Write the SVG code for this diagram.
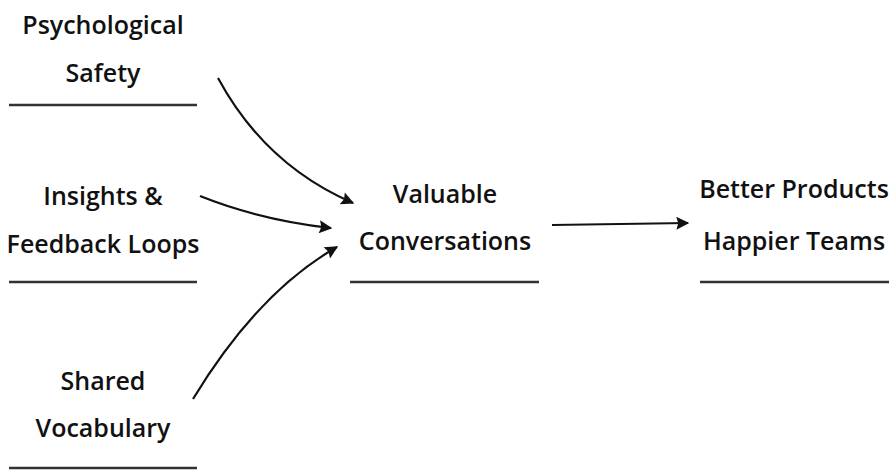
<svg xmlns="http://www.w3.org/2000/svg" width="894" height="471" viewBox="0 0 894 471">
<defs>
<marker id="ah" viewBox="0 0 10 10" refX="9" refY="5" markerWidth="15" markerHeight="13" markerUnits="userSpaceOnUse" orient="auto">
<path d="M0,0 L10,5 L0,10 L1.5,5 z" fill="#111"/>
</marker>
<style>
.t{font-family:"Open Sans","DejaVu Sans",sans-serif;font-size:25px;font-weight:600;fill:#111;text-anchor:middle}
.u{stroke:#333;stroke-width:2.5;fill:none}
.c{stroke:#111;stroke-width:2.2;fill:none;marker-end:url(#ah)}
</style>
</defs>
<rect width="894" height="471" fill="#fff"/>
<g id="psych">
<text class="t" x="103" y="34">Psychological</text>
<text class="t" x="103" y="82">Safety</text>
<line class="u" x1="9" y1="105" x2="197" y2="105"/>
</g>
<g id="insights">
<text class="t" x="103" y="205">Insights &amp;</text>
<text class="t" x="103" y="253">Feedback Loops</text>
<line class="u" x1="9" y1="282" x2="197" y2="282"/>
</g>
<g id="vocab">
<text class="t" x="103" y="390">Shared</text>
<text class="t" x="103" y="437">Vocabulary</text>
<line class="u" x1="9" y1="468" x2="197" y2="468"/>
</g>
<g id="valuable">
<text class="t" x="445" y="203">Valuable</text>
<text class="t" x="445" y="250">Conversations</text>
<line class="u" x1="350" y1="282" x2="539" y2="282"/>
</g>
<g id="better">
<text class="t" x="794" y="198">Better Products</text>
<text class="t" x="794" y="250">Happier Teams</text>
<line class="u" x1="700" y1="282" x2="889" y2="282"/>
</g>
<g id="connectors">
<path class="c" d="M218,78 Q265,165 353,203"/>
<path class="c" d="M200,196 Q260,220 331,228"/>
<path class="c" d="M193,399 Q258,292 337,247"/>
<path class="c" d="M552,225 L688,223"/>
</g>
</svg>
